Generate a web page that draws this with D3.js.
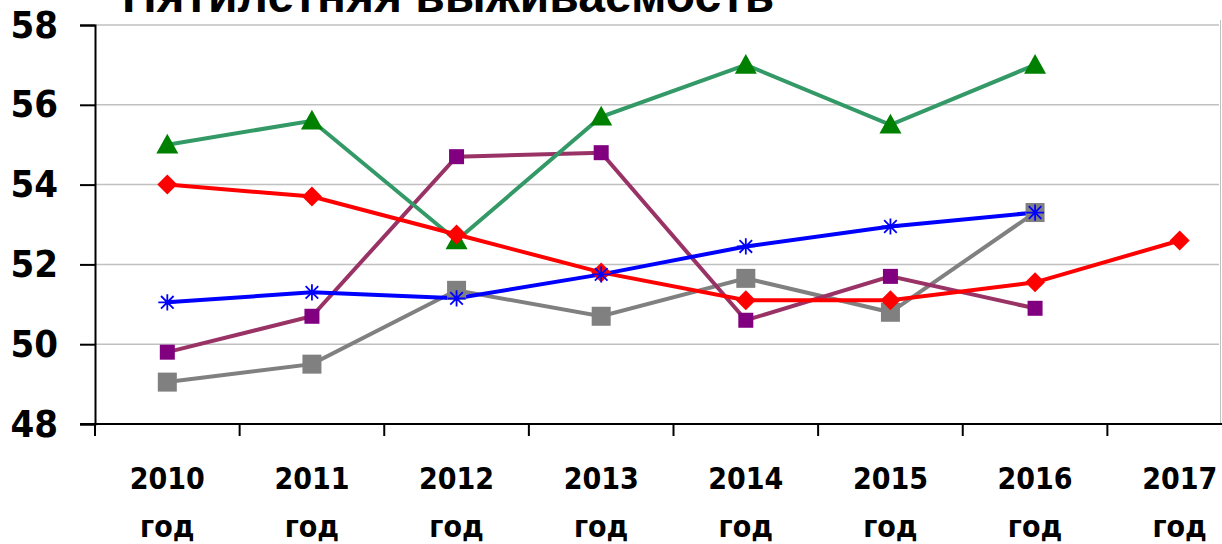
<!DOCTYPE html>
<html>
<head>
<meta charset="utf-8">
<script src="https://cdn.jsdelivr.net/npm/d3@7"></script>
<style>
  body { margin: 0; background: #fff; overflow: hidden; }
  text { font-family: "DejaVu Sans Condensed", "DejaVu Sans", Verdana, sans-serif; font-weight: bold; }
</style>
</head>
<body>
<script>
//chart data
var years = ["2010", "2011", "2012", "2013", "2014", "2015", "2016", "2017"];
var yTicks = [48, 50, 52, 54, 56, 58];

var greenVals  = [55.0, 55.6, 52.6, 55.7, 57.0, 55.5, 57.0, null];
var redVals    = [54.0, 53.7, 52.75, 51.8, 51.1, 51.1, 51.55, 52.6];
var blueVals   = [51.05, 51.3, 51.15, 51.75, 52.45, 52.95, 53.3, null];
var purpleVals = [49.8, 50.7, 54.7, 54.8, 50.6, 51.7, 50.9, null];
var grayVals   = [49.05, 49.5, 51.35, 50.7, 51.65, 50.8, 53.3, null];

window.onload = function(){
    var w = 1222, h = 544;

    var svg = d3.select("body")
        .append("svg")
        .attr("width", w)
        .attr("height", h);

    //scales
    var x = d3.scaleBand()
        .domain(years)
        .range([95, 1252]);

    var y = d3.scaleLinear()
        .domain([48, 58])
        .range([424, 25]);

    //title (cut off at the top like the picture)
    svg.append("text")
        .attr("x", 122)
        .attr("y", 12)
        .style("font-family", "'Liberation Sans', Arial, sans-serif")
        .style("font-size", "48px")
        .text("Пятилетняя выживаемость");

    //gridlines
    svg.append("g")
        .selectAll("line")
        .data(yTicks.slice(1))
        .enter()
        .append("line")
        .attr("x1", 95)
        .attr("x2", 1219)
        .attr("y1", function(d){ return y(d); })
        .attr("y2", function(d){ return y(d); })
        .style("stroke", "#c0c0c0")
        .style("stroke-width", 1.5);

    //right border of the plot area
    svg.append("line")
        .attr("x1", 1220.5).attr("x2", 1220.5)
        .attr("y1", 20).attr("y2", 424)
        .style("stroke", "#b8c4c4")
        .style("stroke-width", 1);

    //y axis
    var yAxis = d3.axisLeft(y)
        .tickValues(yTicks)
        .tickSize(15)
        .tickPadding(22);
    var gy = svg.append("g")
        .attr("transform", "translate(95,0)")
        .call(yAxis);
    gy.select(".domain").style("stroke", "#000").style("stroke-width", 2);
    gy.selectAll(".tick line").style("stroke", "#000").style("stroke-width", 2);
    gy.selectAll(".tick text")
        .style("font-size", "38px")
        .style("font-weight", "bold")
        .style("font-family", "'DejaVu Sans Condensed', 'DejaVu Sans', sans-serif")
        .attr("fill", "#000");

    //x axis
    var gx = svg.append("g")
        .attr("transform", "translate(0,424)");
    gx.append("line")
        .attr("x1", 80).attr("x2", 1222)
        .style("stroke", "#000").style("stroke-width", 2);
    gx.selectAll(".xtick")
        .data(years)
        .enter()
        .append("line")
        .attr("class", "xtick")
        .attr("x1", function(d){ return x(d); })
        .attr("x2", function(d){ return x(d); })
        .attr("y1", 0).attr("y2", 12)
        .style("stroke", "#000").style("stroke-width", 2);
    var lbl = gx.selectAll(".xlabel")
        .data(years)
        .enter()
        .append("text")
        .attr("class", "xlabel")
        .attr("text-anchor", "middle")
        .attr("x", function(d){ return x(d) + x.bandwidth() / 2; })
        .style("font-size", "30px");
    lbl.append("tspan")
        .attr("x", function(d){ return x(d) + x.bandwidth() / 2; })
        .attr("y", 65)
        .text(function(d){ return d; });
    lbl.append("tspan")
        .attr("x", function(d){ return x(d) + x.bandwidth() / 2; })
        .attr("y", 113)
        .text("год");

    var cx = function(i){ return x(years[i]) + x.bandwidth() / 2; };

    var series = [
        { vals: grayVals,   line: "#808080", mark: "#808080", shape: "square", size: 19 },
        { vals: purpleVals, line: "#993366", mark: "#800080", shape: "square", size: 15 },
        { vals: greenVals,  line: "#339966", mark: "#008000", shape: "triangle", size: 22 },
        { vals: redVals,    line: "#ff0000", mark: "#ff0000", shape: "diamond", size: 20 },
        { vals: blueVals,   line: "#0000ff", mark: "#0000ff", shape: "star", size: 18 }
    ];

    var line = d3.line()
        .defined(function(d){ return d != null; })
        .x(function(d, i){ return cx(i); })
        .y(function(d){ return y(d); });

    series.forEach(function(s){
        svg.append("path")
            .datum(s.vals)
            .attr("d", line)
            .style("fill", "none")
            .style("stroke", s.line)
            .style("stroke-width", 4);
    });

    series.forEach(function(s){
        var pts = s.vals.map(function(v, i){ return { v: v, i: i }; })
            .filter(function(p){ return p.v != null; });
        var g = svg.append("g");
        pts.forEach(function(p){
            var px = cx(p.i), py = y(p.v), r = s.size / 2;
            if (s.shape === "square") {
                g.append("rect")
                    .attr("x", px - r).attr("y", py - r)
                    .attr("width", s.size).attr("height", s.size)
                    .style("fill", s.mark);
            } else if (s.shape === "diamond") {
                g.append("path")
                    .attr("d", "M" + px + "," + (py - r) + "L" + (px + r) + "," + py +
                        "L" + px + "," + (py + r) + "L" + (px - r) + "," + py + "Z")
                    .style("fill", s.mark);
            } else if (s.shape === "triangle") {
                g.append("path")
                    .attr("d", "M" + px + "," + (py - r) + "L" + (px + r) + "," + (py + r * 0.8) +
                        "L" + (px - r) + "," + (py + r * 0.8) + "Z")
                    .style("fill", s.mark);
            } else {
                //asterisk marker
                var d = "M" + (px - r) + "," + py + "L" + (px + r) + "," + py +
                    "M" + (px - r * 0.7) + "," + (py - r * 0.7) + "L" + (px + r * 0.7) + "," + (py + r * 0.7) +
                    "M" + (px - r * 0.7) + "," + (py + r * 0.7) + "L" + (px + r * 0.7) + "," + (py - r * 0.7) +
                    "M" + px + "," + (py - r * 0.9) + "L" + px + "," + (py + r * 0.9);
                g.append("path")
                    .attr("d", d)
                    .style("fill", "none")
                    .style("stroke", s.mark)
                    .style("stroke-width", 1.8);
            }
        });
    });
};
</script>
</body>
</html>
